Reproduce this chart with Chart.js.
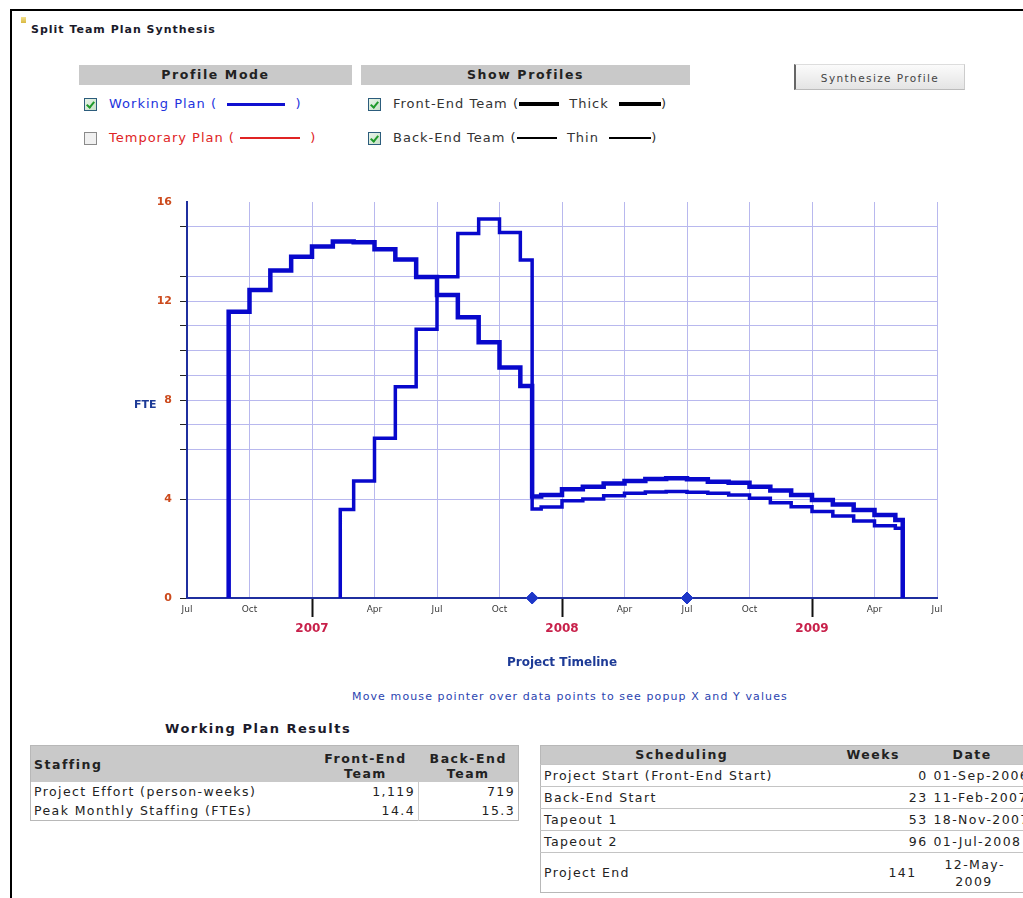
<!DOCTYPE html>
<html>
<head>
<meta charset="utf-8">
<script src="https://cdn.jsdelivr.net/npm/chart.js@4.4.0/dist/chart.umd.min.js"></script>
<style>
  html, body { margin:0; padding:0; background:#fff; }
  body { width:1023px; height:898px; overflow:hidden; position:relative; font-family:"DejaVu Sans", Verdana, sans-serif; color:#222; }
  .abs { position:absolute; }
  .frameTop { left:10px; top:9px; width:1020px; height:2px; background:#000; }
  .frameLeft { left:10px; top:9px; width:2px; height:900px; background:#000; }
  .mark { left:21px; top:17px; width:5px; height:6px; background:linear-gradient(#f3e08a,#d8b840); }
  .title { left:31px; top:23px; font-size:11px; letter-spacing:1px; font-weight:bold; color:#1a1a2a; white-space:nowrap; }
  .bar { top:65px; height:20px; background:#c9c9c9; font-weight:bold; font-size:12.5px; letter-spacing:1.6px; line-height:20px; text-align:center; color:#222; }
  .row { font-size:13px; letter-spacing:1px; white-space:nowrap; line-height:16px; display:flex; align-items:center; }
  .cb { display:inline-block; width:11px; height:11px; border:1px solid #2c5c7c; background:linear-gradient(135deg,#e8f4e8,#c8e0c8); position:relative; margin-right:12px; }
  .cb.on::after { content:""; position:absolute; left:3px; top:1px; width:3px; height:6px; border:solid #1f9a2a; border-width:0 2px 2px 0; transform:rotate(40deg); }
  .cb.off { border-color:#8a8a8a; background:#f0f0f0; }
  .ln { display:inline-block; vertical-align:middle; }
  .btn { left:794px; top:64px; width:171px; height:26px; background:linear-gradient(#fbfbfb,#e4e4e4); border-left:2px solid #666; border-top:1px solid #ddd; border-right:1px solid #ccc; border-bottom:1px solid #bbb; font-size:10.5px; letter-spacing:1.4px; color:#444; text-align:center; line-height:26px; box-sizing:border-box; }
  .hint { left:270px; width:600px; top:690px; text-align:center; font-size:11px; letter-spacing:1.1px; color:#2b44b0; white-space:nowrap; }
  .fte { left:134px; top:398px; font-size:11px; font-weight:bold; color:#1d3a96; }
  .wpr { left:165px; top:721px; font-size:13px; letter-spacing:1.5px; font-weight:bold; color:#1a1a2a; white-space:nowrap; }
  table { border-collapse:collapse; font-size:12.5px; letter-spacing:1.4px; color:#222; table-layout:fixed; }
  td, th { padding:0 3px; white-space:nowrap; overflow:hidden; }
  .t1 { left:30px; top:745px; width:488px; border:1px solid #b8b8b8; }
  .t1 th { background:#c9c9c9; font-weight:bold; height:36px; line-height:15px; padding:0; letter-spacing:1.5px; vertical-align:top; }
  .t1 th div { height:35px; overflow:hidden; padding-top:5px; box-sizing:border-box; }
  .t1 td { height:19px; line-height:19px; }
  .t2 { left:540px; top:745px; width:500px; border:1px solid #b8b8b8; }
  .t2 th { background:#c9c9c9; font-weight:bold; height:18px; line-height:18px; letter-spacing:1.5px; }
  .t2 td { border-top:1px solid #c4c4c4; height:21px; line-height:21px; }
  #chartBox { position:absolute; left:100px; top:185px; width:880px; height:500px; }
</style>
</head>
<body>
<div class="abs frameTop"></div>
<div class="abs frameLeft"></div>
<div class="abs mark"></div>
<div class="abs title">Split Team Plan Synthesis</div>

<div class="abs bar" style="left:79px;width:273px;">Profile Mode</div>
<div class="abs bar" style="left:361px;width:329px;">Show Profiles</div>
<div class="abs btn">Synthesize Profile</div>

<div class="abs row" style="left:84px;top:96px;color:#2233dd;"><span class="cb on"></span>Working Plan (&nbsp;&nbsp;<span class="ln" style="width:58px;height:3px;background:#1010d0;"></span>&nbsp;&nbsp;)</div>
<div class="abs row" style="left:84px;top:130px;color:#e02424;"><span class="cb off"></span>Temporary Plan (&nbsp;<span class="ln" style="width:60px;height:1.5px;background:#e02424;"></span>&nbsp;&nbsp;)</div>
<div class="abs row" style="left:368px;top:96px;color:#333;"><span class="cb on"></span>Front-End Team (<span class="ln" style="width:40px;height:4px;background:#000;"></span>&nbsp;&nbsp;Thick&nbsp;&nbsp;<span class="ln" style="width:42px;height:4px;background:#000;"></span>)</div>
<div class="abs row" style="left:368px;top:130px;color:#333;"><span class="cb on"></span>Back-End Team (<span class="ln" style="width:40px;height:2px;background:#000;"></span>&nbsp;&nbsp;Thin&nbsp;&nbsp;<span class="ln" style="width:42px;height:2px;background:#000;"></span>)</div>

<div id="chartBox"><canvas id="c"></canvas></div>
<div class="abs fte">FTE</div>
<div class="abs hint">Move mouse pointer over data points to see popup X and Y values</div>

<div class="abs wpr">Working Plan Results</div>
<table class="abs t1">
  <colgroup><col style="width:282px"><col style="width:106px"><col style="width:100px"></colgroup>
  <tr><th style="text-align:left;"><div style="padding-top:11px;padding-left:3px;">Staffing</div></th><th><div>Front-End<br>Team</div></th><th><div>Back-End<br>Team</div></th></tr>
  <tr><td>Project Effort (person-weeks)</td><td style="text-align:right;">1,119</td><td style="text-align:right;border-left:1px solid #ccc;">719</td></tr>
  <tr><td>Peak Monthly Staffing (FTEs)</td><td style="text-align:right;">14.4</td><td style="text-align:right;border-left:1px solid #ccc;">15.3</td></tr>
</table>
<table class="abs t2">
  <colgroup><col style="width:282px"><col style="width:108px"><col style="width:110px"></colgroup>
  <tr><th>Scheduling</th><th style="text-align:left;padding-left:24px;">Weeks</th><th style="text-align:left;padding-left:22px;">Date</th></tr>
  <tr><td>Project Start (Front-End Start)</td><td style="text-align:right;">0</td><td>01-Sep-2006</td></tr>
  <tr><td>Back-End Start</td><td style="text-align:right;">23</td><td>11-Feb-2007</td></tr>
  <tr><td>Tapeout 1</td><td style="text-align:right;">53</td><td>18-Nov-2007</td></tr>
  <tr><td>Tapeout 2</td><td style="text-align:right;">96</td><td>01-Jul-2008</td></tr>
  <tr><td style="height:39px;">Project End</td><td style="text-align:right;padding-right:14px;">141</td><td style="text-align:left;padding-left:14px;line-height:17px;">12-May-<br>&nbsp;&nbsp;2009</td></tr>
</table>

<script>
// ---- data ----
const frontEndDates = ['2006-09-01','2006-10-01','2006-11-01','2006-12-01','2007-01-01','2007-02-01','2007-03-01','2007-04-01','2007-05-01','2007-06-01','2007-07-01','2007-08-01','2007-09-01','2007-10-01','2007-11-01','2007-11-18','2007-12-01','2008-01-01','2008-02-01','2008-03-01','2008-04-01','2008-05-01','2008-06-01','2008-07-01','2008-08-01','2008-09-01','2008-10-01','2008-11-01','2008-12-01','2009-01-01','2009-02-01','2009-03-01','2009-04-01','2009-05-01'];
const frontEndFTE = [11.57,12.44,13.23,13.79,14.2,14.4,14.37,14.09,13.68,12.97,12.24,11.34,10.33,9.31,8.57,4.1,4.16,4.39,4.5,4.63,4.73,4.81,4.84,4.8,4.7,4.66,4.5,4.34,4.16,3.96,3.78,3.56,3.35,3.15];
const backEndDates = ['2007-02-11','2007-03-01','2007-04-01','2007-05-01','2007-06-01','2007-07-01','2007-08-01','2007-09-01','2007-10-01','2007-11-01','2007-11-18','2007-12-01','2008-01-01','2008-02-01','2008-03-01','2008-04-01','2008-05-01','2008-06-01','2008-07-01','2008-08-01','2008-09-01','2008-10-01','2008-11-01','2008-12-01','2009-01-01','2009-02-01','2009-03-01','2009-04-01','2009-05-01'];
const backEndFTE = [3.58,4.73,6.45,8.54,10.86,12.98,14.73,15.31,14.77,13.66,3.6,3.68,3.93,4.0,4.13,4.23,4.28,4.3,4.27,4.23,4.16,4.03,3.85,3.69,3.49,3.31,3.11,2.92,2.82];
const projectEndDate = '2009-05-12';
const milestoneDates = ['2007-11-18','2008-07-01'];
const yTickValues = [0,4,6,7,8,9,10,11,12,13,15,16];
const yLabelValues = [0,4,8,12,16];
const monthNames = ['Jan','Feb','Mar','Apr','May','Jun','Jul','Aug','Sep','Oct','Nov','Dec'];

// months since 1-Jul-2006
function toMonths(s) {
  const [y, m, d] = s.split('-').map(Number);
  const dim = new Date(y, m, 0).getDate();
  return (y - 2006) * 12 + (m - 7) + (d - 1) / dim;
}
function stepSeries(dates, vals, end) {
  const pts = [{x: toMonths(dates[0]), y: 0}];
  dates.forEach((d, i) => pts.push({x: toMonths(d), y: vals[i]}));
  pts.push({x: toMonths(end), y: 0});
  return pts;
}
const isJanCtx = c => !!(c && c.tick) && ((Math.round(c.tick.value) + 6) % 12) === 0;
const tickIs = (c, v) => !!(c && c.tick) && c.tick.value === v;

new Chart(document.getElementById('c'), {
  type: 'line',
  data: {
    datasets: [
      { label: 'Front-End Team', data: stepSeries(frontEndDates, frontEndFTE, projectEndDate),
        stepped: true, borderColor: '#0808cc', borderWidth: 4.5, pointRadius: 0, fill: false,
        borderJoinStyle: 'miter', borderCapStyle: 'butt' },
      { label: 'Back-End Team', data: stepSeries(backEndDates, backEndFTE, projectEndDate),
        stepped: true, borderColor: '#0808cc', borderWidth: 3.5, pointRadius: 0, fill: false,
        borderJoinStyle: 'miter', borderCapStyle: 'butt' },
      { label: 'Milestones', data: milestoneDates.map(d => ({x: toMonths(d), y: 0})),
        showLine: false, pointStyle: 'rectRot', pointRadius: 6, backgroundColor: '#1d36c8',
        borderColor: '#1d36c8', borderWidth: 1, clip: false }
    ]
  },
  options: {
    responsive: true, maintainAspectRatio: false, animation: false, events: [],
    layout: { padding: { top: 17, right: 43, left: 0, bottom: 0 } },
    plugins: { legend: { display: false }, tooltip: { enabled: false } },
    scales: {
      x: {
        type: 'linear', min: 0, max: 36,
        afterFit: s => { s.height = 87; s.paddingLeft = 0; s.paddingRight = 0; },
        ticks: {
          stepSize: 3, autoSkip: false, maxRotation: 0, padding: -13,
          callback: v => {
            const mi = (Math.round(v) + 6) % 12;
            if (mi === 0) return ['', String(2006 + Math.floor((Math.round(v) + 6) / 12))];
            return monthNames[mi];
          },
          color: c => isJanCtx(c) ? '#c8204a' : '#3a3a3a',
          font: c => isJanCtx(c)
            ? { family: 'DejaVu Sans', size: 12, weight: 'bold', lineHeight: 1.39 }
            : { family: 'DejaVu Sans', size: 9, lineHeight: 1.2 }
        },
        grid: {
          color: '#b8b8ee', lineWidth: 1, tickLength: 19,
          tickColor: c => isJanCtx(c) ? '#111' : 'rgba(0,0,0,0)',
          tickWidth: 2
        },
        border: { color: '#1f2f9f', width: 2 },
        title: { display: true, text: 'Project Timeline', color: '#1d3a96',
          font: { family: 'DejaVu Sans', size: 12, weight: 'bold' }, padding: { top: 0, bottom: 15 } }
      },
      y: {
        min: 0, max: 16,
        afterFit: s => { s.width = 87; s.paddingTop = 0; s.paddingBottom = 0; },
        afterBuildTicks: s => { s.ticks = yTickValues.map(v => ({ value: v })); },
        ticks: {
          padding: 8, autoSkip: false,
          callback: v => yLabelValues.includes(v) ? String(v) : '',
          color: '#cc4a1c',
          font: { family: 'DejaVu Sans', size: 11, weight: 'bold' }
        },
        grid: {
          color: c => tickIs(c, 16) ? 'rgba(0,0,0,0)' : '#b8b8ee',
          tickLength: 7,
          tickColor: c => tickIs(c, 16) ? 'rgba(0,0,0,0)' : '#222'
        },
        border: { color: '#1f2f9f', width: 2 }
      }
    }
  }
});
</script>
</body>
</html>
